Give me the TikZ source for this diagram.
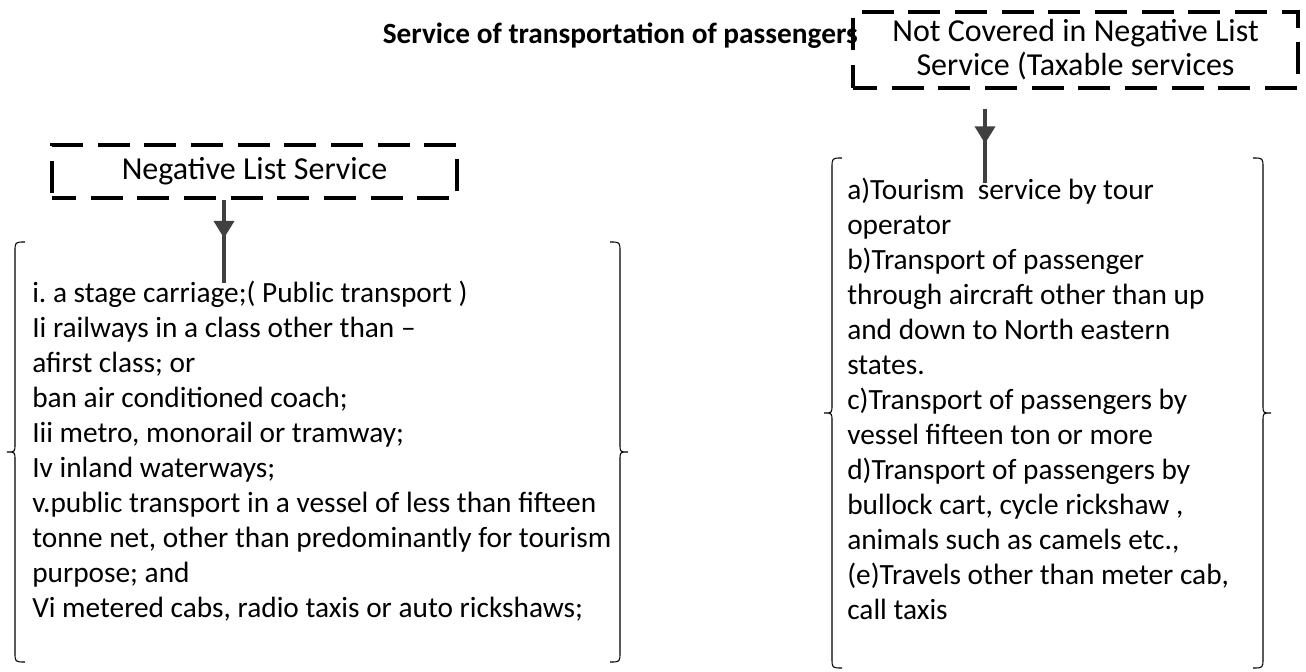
\documentclass[tikz,border=0pt]{standalone}
\usepackage{fontspec}
\setmainfont{Carlito}
\frenchspacing
\usetikzlibrary{arrows.meta,decorations.markings}

\definecolor{arrowgrey}{HTML}{404040}

% curly bracket pair round a list: left, top, right, bottom
\newcommand\bracebox[4]{%
  \draw[brace] ({#1+10},#2) .. controls (#1,#2) .. (#1,{#2+10})
    -- (#1,{(#2+#4)/2-8}) .. controls (#1,{(#2+#4)/2}) .. ({#1-8},{(#2+#4)/2})
    .. controls (#1,{(#2+#4)/2}) .. (#1,{(#2+#4)/2+8})
    -- (#1,{#4-10}) .. controls (#1,#4) .. ({#1+10},#4);
  \draw[brace] ({#3-10},#2) .. controls (#3,#2) .. (#3,{#2+10})
    -- (#3,{(#2+#4)/2-8}) .. controls (#3,{(#2+#4)/2}) .. ({#3+8},{(#2+#4)/2})
    .. controls (#3,{(#2+#4)/2}) .. (#3,{(#2+#4)/2+8})
    -- (#3,{#4-10}) .. controls (#3,#4) .. ({#3-10},#4);
}

\begin{document}
\begin{tikzpicture}[x=0.75pt, y=-0.75pt,
  dashbox/.style={
    draw=black, line width=3pt, dash pattern=on 24pt off 11pt,
    dash phase=6pt, align=center, inner sep=0pt,
    font=\fontsize{24}{25.5}\selectfont,
  },
  listtext/.style={
    anchor=base west, align=left, inner sep=0pt,
    font=\fontsize{22}{26.25}\selectfont,
  },
  brace/.style={draw=black, line width=0.8pt},
  flow/.style={
    draw=arrowgrey, color=arrowgrey, line width=3pt,
    postaction=decorate,
    decoration={markings,
      mark=at position #1 with {\arrow{Triangle[width=15pt,length=13pt]}}},
  }]
  \useasboundingbox (0,0) rectangle (1306,671);

  \node[anchor=base east, inner sep=0pt, font=\fontsize{22}{26}\selectfont\bfseries]
    (title) at (858,43) {Service of transportation of passengers};

  % the two headings
  \node[dashbox, minimum width=333.75pt, minimum height=57pt]
    (taxable) at (1075.5,50) {Not Covered in Negative List\\Service (Taxable services};
  \node[dashbox, minimum width=303.75pt, minimum height=39.75pt]
    (negative) at (254.5,171.5) {Negative List Service};

  % the lists (node sits on the baseline of its last line)
  \bracebox{15}{242}{620}{662}
  \node[listtext] (negitems) at (32,617) {i. a stage carriage;( Public transport )\\
    Ii railways in a class other than --\\
    afirst class; or\\
    ban air conditioned coach;\\
    Iii metro, monorail or tramway;\\
    Iv inland waterways;\\
    v.public transport in a vessel of less than fifteen\\
    tonne net, other than predominantly for tourism\\
    purpose; and\\
    Vi metered cabs, radio taxis or auto rickshaws;};

  \bracebox{832}{158}{1263}{668}
  \node[listtext] (taxitems) at (847,619) {a)Tourism\ \ service by tour\\
    operator\\
    b)Transport of passenger\\
    through aircraft other than up\\
    and down to North eastern\\
    states.\\
    c)Transport of passengers by\\
    vessel fifteen ton or more\\
    d)Transport of passengers by\\
    bullock cart, cycle rickshaw ,\\
    animals such as camels etc.,\\
    (e)Travels other than meter cab,\\
    call taxis};

  % arrows down into the lists
  \coordinate (negend) at (224,283);
  \coordinate (taxend) at (985,183);
  \draw[flow=0.46] (negend |- negative.south) -- (negend);
  \draw[flow=0.47] ([yshift=-14pt]taxend |- taxable.south) -- (taxend);
\end{tikzpicture}
\end{document}
